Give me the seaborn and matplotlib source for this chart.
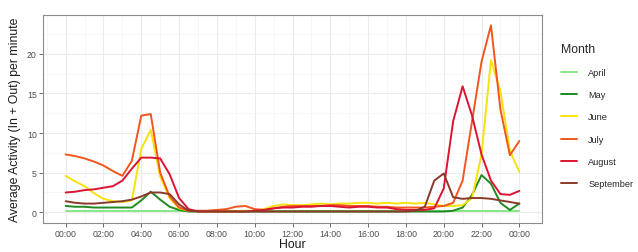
import numpy as np
import pandas as pd
import matplotlib
matplotlib.use("Agg")
import matplotlib.pyplot as plt
from matplotlib.ticker import MultipleLocator
import seaborn as sns

# ===== DATA (half-hour steps, 00:00 -> 24:00) =====
hours = [i * 0.5 for i in range(49)]

april = [0.2, 0.2, 0.2, 0.2, 0.2, 0.2, 0.2, 0.2, 0.2, 0.2,
         0.2, 0.2, 0.2, 0.2, 0.2, 0.2, 0.2, 0.2, 0.2, 0.2,
         0.2, 0.2, 0.2, 0.2, 0.2, 0.2, 0.2, 0.2, 0.2, 0.2,
         0.2, 0.2, 0.2, 0.2, 0.2, 0.2, 0.2, 0.2, 0.2, 0.2,
         0.2, 0.2, 0.2, 0.2, 0.2, 0.2, 0.2, 0.2, 0.2]
may = [0.8, 0.7, 0.7, 0.6, 0.6, 0.6, 0.6, 0.6, 1.5, 2.6,
       1.6, 0.7, 0.3, 0.1, 0.1, 0.1, 0.1, 0.1, 0.1, 0.1,
       0.1, 0.1, 0.1, 0.1, 0.1, 0.1, 0.1, 0.1, 0.1, 0.1,
       0.1, 0.1, 0.1, 0.1, 0.1, 0.1, 0.1, 0.1, 0.1, 0.1,
       0.1, 0.2, 0.6, 2.2, 4.7, 3.6, 1.2, 0.3, 1.1]
june = [4.6, 3.9, 3.3, 2.4, 1.7, 1.4, 1.3, 1.5, 8.0, 10.4,
        4.5, 1.8, 0.5, 0.2, 0.1, 0.1, 0.1, 0.1, 0.1, 0.2,
        0.2, 0.4, 0.8, 1.0, 0.9, 0.9, 1.0, 1.1, 1.0, 1.1,
        1.1, 1.2, 1.2, 1.1, 1.2, 1.1, 1.2, 1.1, 1.2, 1.0,
        0.8, 0.8, 0.9, 1.8, 7.3, 19.2, 15.3, 7.8, 5.1]
july = [7.3, 7.1, 6.8, 6.4, 5.9, 5.2, 4.6, 6.5, 12.2, 12.4,
        5.0, 2.0, 0.6, 0.2, 0.2, 0.2, 0.3, 0.4, 0.7, 0.8,
        0.4, 0.3, 0.5, 0.7, 0.8, 0.8, 0.8, 0.8, 0.9, 0.9,
        0.8, 0.8, 0.8, 0.7, 0.7, 0.6, 0.6, 0.6, 0.6, 0.7,
        0.8, 1.2, 4.0, 11.5, 19.0, 23.6, 13.0, 7.2, 9.0]
august = [2.5, 2.6, 2.8, 2.9, 3.1, 3.3, 4.0, 5.5, 6.9, 6.9,
          6.8, 4.8, 1.8, 0.4, 0.1, 0.1, 0.1, 0.1, 0.1, 0.1,
          0.2, 0.3, 0.5, 0.6, 0.6, 0.7, 0.7, 0.8, 0.8, 0.7,
          0.6, 0.7, 0.7, 0.6, 0.6, 0.4, 0.3, 0.3, 0.3, 0.5,
          3.0, 11.5, 15.9, 12.2, 7.3, 4.0, 2.3, 2.2, 2.7]
september = [1.4, 1.2, 1.1, 1.1, 1.2, 1.3, 1.4, 1.6, 2.0, 2.5,
             2.5, 2.3, 1.0, 0.2, 0.1, 0.1, 0.1, 0.1, 0.1, 0.1,
             0.1, 0.1, 0.1, 0.1, 0.1, 0.1, 0.1, 0.1, 0.1, 0.1,
             0.1, 0.1, 0.1, 0.1, 0.1, 0.1, 0.1, 0.2, 0.7, 4.0,
             4.9, 1.9, 1.7, 1.8, 1.8, 1.7, 1.5, 1.3, 1.1]

months = ["April", "May", "June", "July", "August", "September"]
colors = ["#86e886", "#1f8a1f", "#f7e20c", "#f2561d", "#dc1431", "#8b3a2a"]
tick_hours = [0, 2, 4, 6, 8, 10, 12, 14, 16, 18, 20, 22, 24]
tick_labels = ["00:00", "02:00", "04:00", "06:00", "08:00", "10:00", "12:00",
               "14:00", "16:00", "18:00", "20:00", "22:00", "00:00"]

series = [april, may, june, july, august, september]
df = pd.concat([pd.DataFrame({"Hour": hours, "Activity": vals, "Month": m})
                for m, vals in zip(months, series)], ignore_index=True)

# ===== STYLE =====
sns.set_theme(style="whitegrid")
plt.rcParams["font.family"] = ["Liberation Sans", "DejaVu Sans"]

fig = plt.figure(figsize=(6.38, 2.53), dpi=100)
ax = fig.add_axes([43 / 638, 29 / 253, 499 / 638, 208 / 253])

sns.lineplot(data=df, x="Hour", y="Activity", hue="Month", hue_order=months,
             palette=dict(zip(months, colors)), linewidth=1.4, ax=ax)

ax.set_xlim(-1.2, 25.2)
ax.set_ylim(-1.35, 24.9)
ax.set_xticks(tick_hours)
ax.set_xticklabels(tick_labels)
ax.set_yticks([0, 5, 10, 15, 20])
ax.xaxis.set_minor_locator(MultipleLocator(1))
ax.yaxis.set_minor_locator(MultipleLocator(2.5))

ax.grid(which="major", color="#ebebeb", linewidth=0.8)
ax.grid(which="minor", color="#f4f4f4", linewidth=0.5)
for s in ax.spines.values():
    s.set_color("#8c8c8c")
    s.set_linewidth(0.8)
ax.tick_params(which="major", length=3, width=0.6, color="#555555",
               labelsize=6.3, labelcolor="#4d4d4d", pad=1.5, direction="out",
               bottom=True, left=True)
ax.tick_params(which="minor", length=0)

ax.set_xlabel("Hour", fontsize=8.8, color="#1a1a1a", labelpad=0)
ax.set_ylabel("Average Activity (In + Out) per minute", fontsize=8.8,
              color="#1a1a1a", labelpad=4)

leg = ax.legend(title="Month", loc="upper left", bbox_to_anchor=(1.03, 0.885),
                frameon=False, fontsize=6.6, title_fontsize=8.8,
                handlelength=1.8, handletextpad=1.2, labelspacing=1.45,
                borderaxespad=0)
leg._legend_box.align = "left"
for line in leg.get_lines():
    line.set_linewidth(1.4)

plt.savefig("out.png", dpi=100)
plt.close()
